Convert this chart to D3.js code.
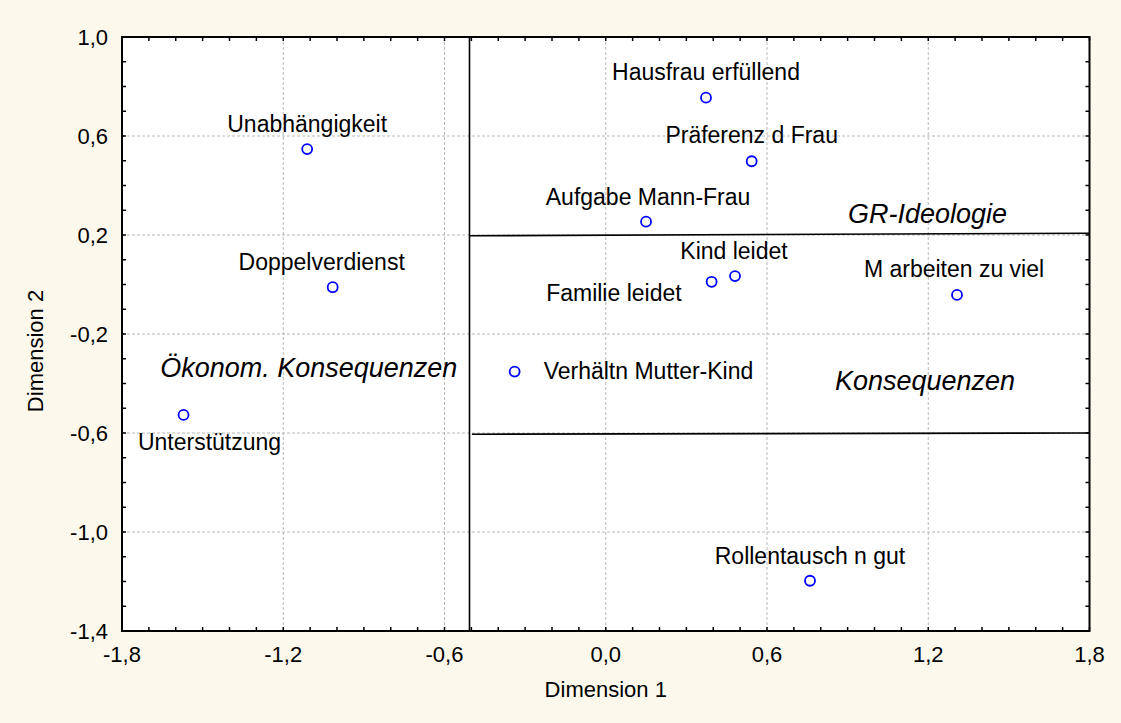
<!DOCTYPE html>
<html>
<head>
<meta charset="utf-8">
<script src="https://cdn.jsdelivr.net/npm/d3@7"></script>
<style>
  body { margin: 0; background: #fdf8ec; }
  svg { display: block; font-family: Arial, "Liberation Sans", sans-serif; }
</style>
</head>
<body>
<svg width="1121" height="723"></svg>
<script>
// item labels and MDS coordinates
const labels = [
  "Hausfrau erfüllend", "Präferenz d Frau", "Unabhängigkeit", "Aufgabe Mann-Frau",
  "Doppelverdienst", "Kind leidet", "Familie leidet", "M arbeiten zu viel",
  "Verhältn Mutter-Kind", "Unterstützung", "Rollentausch n gut",
];
const dim1 = [0.373, 0.543, -1.111, 0.150, -1.016, 0.481, 0.394, 1.307, -0.339, -1.571, 0.760];
const dim2 = [0.755, 0.498, 0.547, 0.254, -0.011, 0.034, 0.011, -0.042, -0.352, -0.527, -1.197];

// region separators, in data units: [x1, y1, x2, y2]
const separators = [
  [-0.507, 1.0, -0.507, -1.4],
  [-0.507, 0.197, 1.8, 0.207],
  [-0.498, -0.605, 1.8, -0.600],
];
// region names: [text, x, y, anchor]
const regionNames = [
  ["GR-Ideologie", 1.493, 0.247, "end"],
  ["Konsequenzen", 0.853, -0.426, "start"],
  ["Ökonom. Konsequenzen", -1.658, -0.3725, "start"],
];

const xTicks = [-1.8, -1.2, -0.6, 0.0, 0.6, 1.2, 1.8];
const yTicks = [-1.4, -1.0, -0.6, -0.2, 0.2, 0.6, 1.0];

// label placement relative to the marker (layout only)
const labelPlace = [
  ["middle", 0, -18], ["middle", 0, -18], ["middle", 0, -17], ["middle", 2, -17],
  ["middle", -11, -17], ["middle", -1, -17], ["end", -30, 19], ["middle", -3, -18],
  ["start", 29, 7], ["middle", 26, 35], ["middle", 0, -17],
];

const width = 1121, height = 723;
const plot = { left: 122, right: 1089.5, top: 37, bottom: 631 };

const svg = d3.select("svg");
const x = d3.scaleLinear().domain([-1.8, 1.8]).range([plot.left, plot.right]);
const y = d3.scaleLinear().domain([-1.4, 1.0]).range([plot.bottom, plot.top]);
const fmt = (v) => d3.format(".1f")(v).replace(".", ",").replace("−", "-");

svg.append("rect").attr("width", width).attr("height", height).attr("fill", "#fdf8ec");
svg.append("rect")
  .attr("x", plot.left).attr("y", plot.top)
  .attr("width", plot.right - plot.left).attr("height", plot.bottom - plot.top)
  .attr("fill", "#fff");

// grid
const grid = svg.append("g").attr("stroke", "#b8b8b8").attr("stroke-dasharray", "3,2").attr("stroke-width", 1);
grid.selectAll(".gx").data(xTicks.slice(1, -1)).enter().append("line")
  .attr("x1", (d) => x(d)).attr("x2", (d) => x(d)).attr("y1", plot.top).attr("y2", plot.bottom);
grid.selectAll(".gy").data(yTicks.slice(1, -1)).enter().append("line")
  .attr("y1", (d) => y(d)).attr("y2", (d) => y(d)).attr("x1", plot.left).attr("x2", plot.right);

// separators
svg.append("g").selectAll("line").data(separators).enter().append("line")
  .attr("x1", (d) => x(d[0])).attr("y1", (d) => y(d[1]))
  .attr("x2", (d) => x(d[2])).attr("y2", (d) => y(d[3]))
  .attr("stroke", "#000").attr("stroke-width", 1.6);

// axes: inward ticks every 0.1 on all four sides
const minorX = d3.range(-18, 19).map((i) => i / 10);
const minorY = d3.range(-14, 11).map((i) => i / 10);
const tk = 4;
const axisG = svg.append("g").attr("stroke", "#000").attr("stroke-width", 1.5);
axisG.selectAll(".tb").data(minorX).enter().append("line")
  .attr("x1", (d) => x(d)).attr("x2", (d) => x(d)).attr("y1", plot.bottom).attr("y2", plot.bottom - tk);
axisG.selectAll(".tt").data(minorX).enter().append("line")
  .attr("x1", (d) => x(d)).attr("x2", (d) => x(d)).attr("y1", plot.top).attr("y2", plot.top + tk);
axisG.selectAll(".tl").data(minorY).enter().append("line")
  .attr("y1", (d) => y(d)).attr("y2", (d) => y(d)).attr("x1", plot.left).attr("x2", plot.left + tk);
axisG.selectAll(".tr").data(minorY).enter().append("line")
  .attr("y1", (d) => y(d)).attr("y2", (d) => y(d)).attr("x1", plot.right).attr("x2", plot.right - tk);
svg.append("rect")
  .attr("x", plot.left).attr("y", plot.top)
  .attr("width", plot.right - plot.left).attr("height", plot.bottom - plot.top)
  .attr("fill", "none").attr("stroke", "#000").attr("stroke-width", 2);

// tick labels
svg.append("g").selectAll("text").data(xTicks).enter().append("text")
  .attr("x", (d) => x(d)).attr("y", 662)
  .attr("text-anchor", "middle").attr("font-size", 22).text(fmt);
svg.append("g").selectAll("text").data(yTicks).enter().append("text")
  .attr("x", 108).attr("y", (d) => y(d) + 8)
  .attr("text-anchor", "end").attr("font-size", 22).text(fmt);

// axis titles
svg.append("text").attr("x", (plot.left + plot.right) / 2).attr("y", 697)
  .attr("text-anchor", "middle").attr("font-size", 22).text("Dimension 1");
svg.append("text").attr("transform", "translate(43, 351) rotate(-90)")
  .attr("text-anchor", "middle").attr("font-size", 22).text("Dimension 2");

// region names
svg.append("g").selectAll("text").data(regionNames).enter().append("text")
  .attr("x", (d) => x(d[1])).attr("y", (d) => y(d[2]))
  .attr("text-anchor", (d) => d[3])
  .attr("font-size", 27).attr("font-style", "italic").text((d) => d[0]);

// points
const pts = labels.map((l, i) => ({ label: l, x: dim1[i], y: dim2[i], place: labelPlace[i] }));
svg.append("g").selectAll("circle").data(pts).enter().append("circle")
  .attr("cx", (d) => x(d.x)).attr("cy", (d) => y(d.y)).attr("r", 5)
  .attr("fill", "none").attr("stroke", "#0000ff").attr("stroke-width", 1.8);
svg.append("g").selectAll("text").data(pts).enter().append("text")
  .attr("x", (d) => x(d.x) + d.place[1]).attr("y", (d) => y(d.y) + d.place[2])
  .attr("text-anchor", (d) => d.place[0])
  .attr("font-size", 23).text((d) => d.label);
</script>
</body>
</html>
